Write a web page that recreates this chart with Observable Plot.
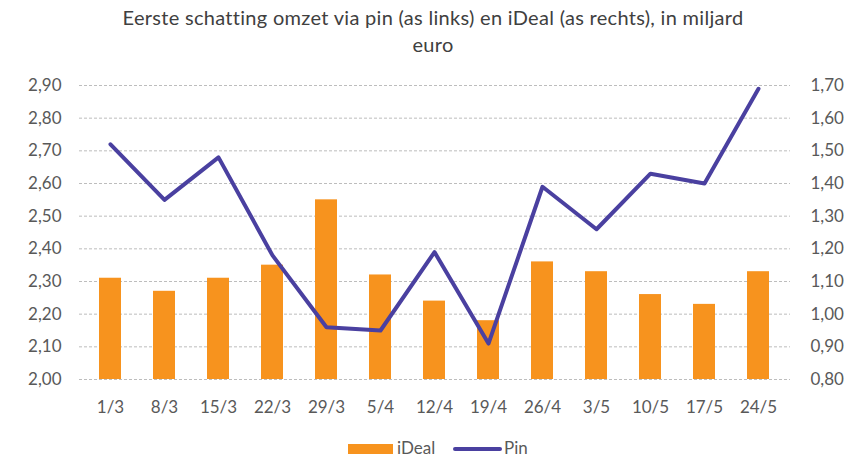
<!DOCTYPE html>
<html>
<head>
<meta charset="utf-8">
<script src="https://cdn.jsdelivr.net/npm/d3@7"></script>
<script src="https://cdn.jsdelivr.net/npm/@observablehq/plot@0.6"></script>
<style>
  body { margin: 0; background: #fff; width: 858px; height: 458px; overflow: hidden; font-family: Lato, "Open Sans", sans-serif; }
  #title { position: absolute; left: 0; top: 4px; width: 866px; text-align: center; font-size: 20px; letter-spacing: 0.3px; line-height: 27px; color: #404040; }
  #chart { position: absolute; left: 0; top: 60px; }
  #legend { position: absolute; top: 439px; left: 0; width: 858px; height: 18px; font-size: 17px; color: #595959; }
  .sw { position: absolute; }
  .lt { position: absolute; top: 0; line-height: 18px; }
</style>
</head>
<body>
<div id="title">Eerste schatting omzet via pin (as links) en iDeal (as rechts), in miljard<br>euro</div>
<div id="chart"></div>
<div id="legend">
  <div class="sw" style="left:348px;top:5px;width:45px;height:10px;background:#F7931E"></div>
  <div class="lt" style="left:397px">iDeal</div>
  <div class="sw" style="left:453px;top:8px;width:49px;height:4px;background:#4A40A0;border-radius:2px"></div>
  <div class="lt" style="left:504px">Pin</div>
</div>
<script>
const dates = ["1/3","8/3","15/3","22/3","29/3","5/4","12/4","19/4","26/4","3/5","10/5","17/5","24/5"];
const pin   = [2.72, 2.55, 2.68, 2.38, 2.16, 2.15, 2.39, 2.11, 2.59, 2.46, 2.63, 2.60, 2.89];
const ideal = [1.11, 1.07, 1.11, 1.15, 1.35, 1.12, 1.04, 0.98, 1.16, 1.13, 1.06, 1.03, 1.13];
const leftTicks  = [2.00, 2.10, 2.20, 2.30, 2.40, 2.50, 2.60, 2.70, 2.80, 2.90];
const rightTicks = [0.80, 0.90, 1.00, 1.10, 1.20, 1.30, 1.40, 1.50, 1.60, 1.70];

// right axis is the left axis shifted by this amount
const axisOffset = leftTicks[0] - rightTicks[0];
const data = dates.map((d, i) => ({date: d, pin: pin[i], ideal: ideal[i]}));
const fmt = v => v.toFixed(2).replace(".", ",");

const chart = Plot.plot({
  width: 858,
  height: 370,
  marginTop: 25,
  marginBottom: 51,
  marginLeft: 79,
  marginRight: 68,
  x: {domain: dates, paddingInner: 0.59, paddingOuter: 0.295, label: null},
  y: {domain: [leftTicks[0], leftTicks[leftTicks.length - 1]], label: null},
  style: {fontFamily: "Lato, 'Open Sans', sans-serif", fontSize: "17px", color: "#595959", background: "transparent"},
  marks: [
    Plot.gridY(leftTicks, {stroke: "#bdbdbd", strokeOpacity: 1, strokeDasharray: "3,2"}),
    Plot.barY(data, {x: "date", y1: leftTicks[0], y2: d => d.ideal + axisOffset, fill: "#F7931E"}),
    Plot.lineY(data, {x: "date", y: "pin", stroke: "#4A40A0", strokeWidth: 4, strokeLinejoin: "round", strokeLinecap: "round"}),
    Plot.axisY(leftTicks, {anchor: "left", tickSize: 0, tickPadding: 18, tickFormat: fmt, style: {letterSpacing: "0.8px"}}),
    Plot.axisY(leftTicks, {anchor: "right", tickSize: 0, tickPadding: 20, tickFormat: d => fmt(d - axisOffset), style: {letterSpacing: "0.8px"}}),
    Plot.axisX({tickSize: 0, tickPadding: 21})
  ]
});
document.getElementById("chart").appendChild(chart);
</script>
</body>
</html>
